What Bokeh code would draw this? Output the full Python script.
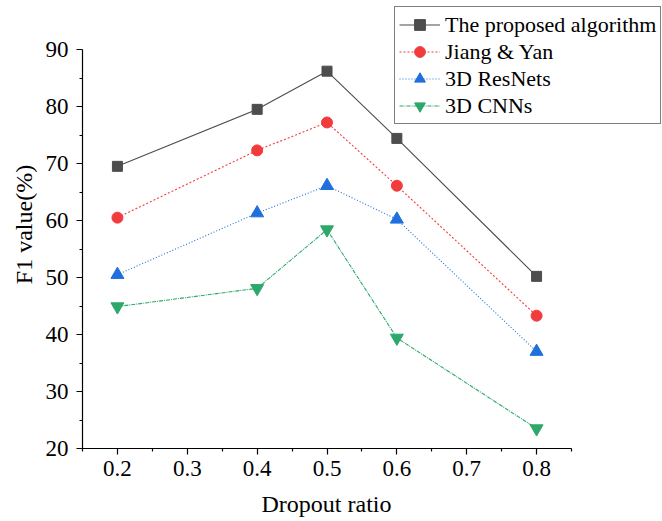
from bokeh.plotting import figure
from bokeh.models import FixedTicker, Range1d, Legend, Title
from bokeh.embed import file_html
from bokeh.resources import INLINE

dropout = [0.2, 0.4, 0.5, 0.6, 0.8]
proposed = [69.5, 79.5, 86.2, 74.4, 50.2]
jiang_yan = [60.5, 72.3, 77.2, 66.1, 43.3]
resnets = [50.5, 61.3, 66.1, 60.2, 37.0]
cnns = [44.9, 48.1, 58.4, 39.4, 23.5]

x_ticks = [0.2, 0.3, 0.4, 0.5, 0.6, 0.7, 0.8]
x_minor = [0.15, 0.25, 0.35, 0.45, 0.55, 0.65, 0.75, 0.85]
y_ticks = [20, 30, 40, 50, 60, 70, 80, 90]
y_minor = [25, 35, 45, 55, 65, 75, 85]
x_axis_span = (0.15, 0.85)
y_axis_span = (20, 90)

FONT = "Liberation Serif"

# axis spans occupy 489 x 399 px; the frame is extended up and right so the
# legend (which sits partly outside the axes box) is not clipped
px_per_x = 489 / (x_axis_span[1] - x_axis_span[0])
px_per_y = 399 / (y_axis_span[1] - y_axis_span[0])
x_end = x_axis_span[1] + 91 / px_per_x
y_end = y_axis_span[1] + 49 / px_per_y

p = figure(width=662, height=521, output_backend="svg", toolbar_location=None,
           x_range=Range1d(x_axis_span[0], x_end),
           y_range=Range1d(y_axis_span[0], y_end),
           min_border_left=82, min_border_top=0, min_border_right=0,
           min_border_bottom=73)
p.frame_width = 580
p.frame_height = 448
p.outline_line_color = None
p.grid.visible = False
p.background_fill_color = "white"
p.border_fill_color = "white"

series = [
    ("The proposed algorithm", proposed, "#4d4d4d", "solid", "square", 10),
    ("Jiang & Yan", jiang_yan, "#f23b3d", "2 2", "circle", 11),
    ("3D ResNets", resnets, "#1f6fdd", "1 2", "triangle", 13),
    ("3D CNNs", cnns, "#2da86b", "4 1 1 1", "inverted_triangle", 13),
]
items = []
for label, ys, color, dash, marker, size in series:
    l = p.line(dropout, ys, line_color=color, line_width=1.1, line_dash=dash)
    s = p.scatter(dropout, ys, marker=marker, size=size, fill_color=color,
                  line_color=color)
    items.append((label, [l, s]))

legend = Legend(items=items, location=(312, 324))
legend.label_text_font = FONT
legend.label_text_font_size = "22px"
legend.label_text_color = "black"
legend.border_line_color = "black"
legend.border_line_width = 1.2
legend.glyph_width = 41
legend.glyph_height = 27
legend.label_height = 27
legend.label_standoff = 5
legend.spacing = 0
legend.padding = 4
legend.margin = 0
legend.background_fill_alpha = 1
p.add_layout(legend, "center")

for ax, ticks, minor, span in [(p.xaxis[0], x_ticks, x_minor, x_axis_span),
                               (p.yaxis[0], y_ticks, y_minor, y_axis_span)]:
    ax.ticker = FixedTicker(ticks=ticks, minor_ticks=minor)
    ax.bounds = span
    ax.axis_line_color = "black"
    ax.axis_line_width = 1.2
    ax.major_tick_line_color = "black"
    ax.minor_tick_line_color = "black"
    ax.major_tick_line_width = 1.2
    ax.minor_tick_line_width = 1.2
    ax.major_tick_in = 0
    ax.minor_tick_in = 0
    ax.major_tick_out = 6
    ax.minor_tick_out = 3
    ax.major_label_text_font = FONT
    ax.major_label_text_font_size = "23px"
    ax.major_label_text_color = "black"
    ax.axis_label_text_font = FONT
    ax.axis_label_text_font_size = "24px"
    ax.axis_label_text_font_style = "normal"
    ax.axis_label_text_color = "black"

p.yaxis.axis_label = "F1 value(%)"
p.xaxis.major_label_standoff = 6
p.yaxis.major_label_standoff = 8
p.yaxis.axis_label_standoff = 6

# x-axis title, centred under the axis span (not the extended frame)
xlabel = Title(text="Dropout ratio", align="left", offset=179,
               text_font=FONT, text_font_size="24px", text_font_style="normal",
               text_color="black", standoff=20, vertical_align="bottom")
p.add_layout(xlabel, "below")

open("out.html", "w").write(file_html(p, INLINE))
